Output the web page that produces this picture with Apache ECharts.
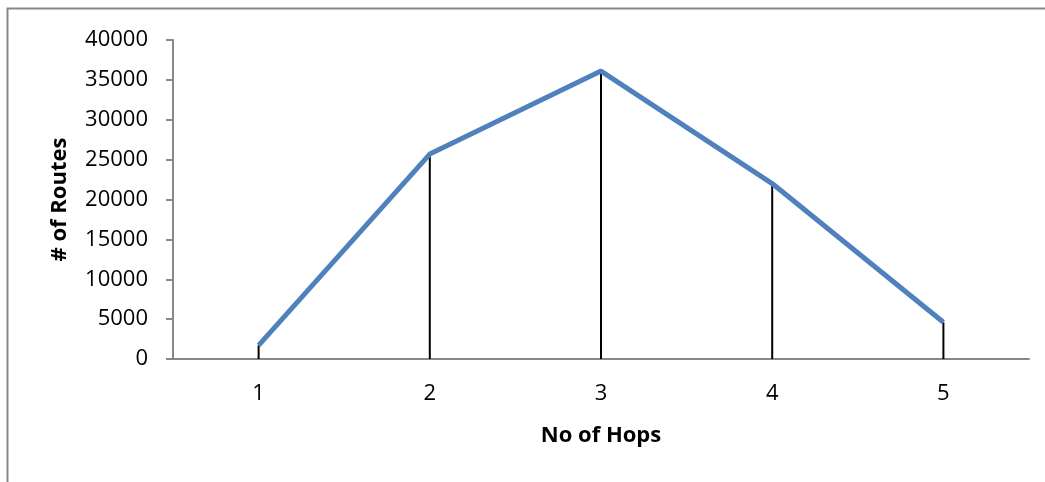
<!DOCTYPE html>
<html>
<head>
<meta charset="utf-8">
<script src="https://cdn.jsdelivr.net/npm/echarts@6/dist/echarts.min.js"></script>
<style>
  html, body { margin: 0; padding: 0; background: #fff; }
  #chart { width: 1045px; height: 482px; }
</style>
</head>
<body>
<div id="chart"></div>
<script>
const hops = ['1', '2', '3', '4', '5']
const routes = [1700, 25700, 36100, 22000, 4600]
const yTicks = { min: 0, max: 40000, interval: 5000 }

const font = 'Open Sans'
let myChart = echarts.init(document.getElementById('chart'))
myChart.setOption({
  animation: false,
  graphic: [{
    type: 'rect',
    shape: { x: 7.5, y: 8.5, width: 1100, height: 600 },
    style: { fill: 'none', stroke: '#888', lineWidth: 2 },
    silent: true
  }],
  grid: { left: 173, right: 16, top: 40, bottom: 123 },
  xAxis: {
    type: 'category',
    data: hops,
    name: 'No of Hops',
    nameLocation: 'middle',
    nameGap: 66,
    nameTextStyle: { fontFamily: font, fontSize: 22, fontWeight: 'bold', color: '#000' },
    axisLine: { lineStyle: { color: '#888', width: 2 } },
    axisTick: { show: false },
    axisLabel: { fontFamily: font, fontSize: 22, color: '#000', margin: 24 },
    splitLine: { show: false }
  },
  yAxis: {
    type: 'value',
    min: yTicks.min,
    max: yTicks.max,
    interval: yTicks.interval,
    name: '# of Routes',
    nameLocation: 'middle',
    nameGap: 102,
    nameTextStyle: { fontFamily: font, fontSize: 22, fontWeight: 'bold', color: '#000' },
    axisLine: { show: true, lineStyle: { color: '#888', width: 2 } },
    axisTick: { show: true, length: 7, lineStyle: { color: '#888', width: 2 } },
    axisLabel: { fontFamily: font, fontSize: 22, color: '#000', margin: 25, formatter: v => String(v) },
    splitLine: { show: false }
  },
  series: [
    {
      type: 'bar',
      data: routes,
      barWidth: 2,
      itemStyle: { color: '#000' },
      silent: true
    },
    {
      type: 'line',
      data: routes,
      symbol: 'none',
      lineStyle: { color: '#4f81bd', width: 5 },
      z: 5
    }
  ]
})
</script>
</body>
</html>
